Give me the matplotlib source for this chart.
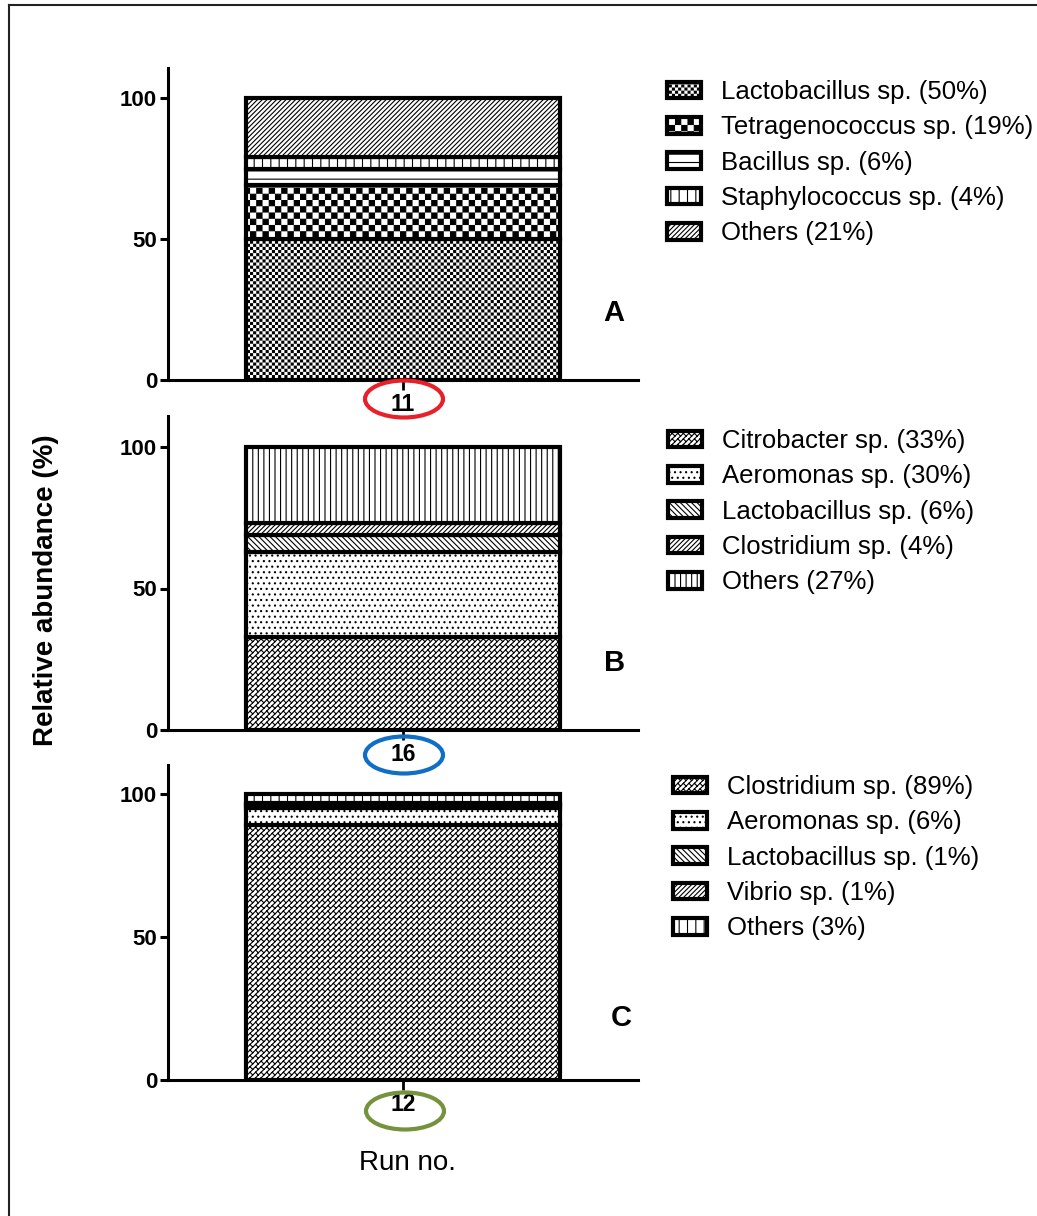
import numpy as np
import matplotlib
matplotlib.use('Agg')
import matplotlib.pyplot as plt
import matplotlib.hatch as mhatch
from matplotlib.path import Path
from matplotlib.patches import Ellipse
from matplotlib.lines import Line2D

plt.rcParams['font.family'] = ['Liberation Sans', 'DejaVu Sans']
plt.rcParams['hatch.linewidth'] = 0.8

# run 11
species_11 = ['Lactobacillus sp.', 'Tetragenococcus sp.', 'Bacillus sp.',
              'Staphylococcus sp.', 'Others']
pct_11 = [50, 19, 6, 4, 21]
# run 16
species_16 = ['Citrobacter sp.', 'Aeromonas sp.', 'Lactobacillus sp.',
              'Clostridium sp.', 'Others']
pct_16 = [33, 30, 6, 4, 27]
# run 12
species_12 = ['Clostridium sp.', 'Aeromonas sp.', 'Lactobacillus sp.',
              'Vibrio sp.', 'Others']
pct_12 = [89, 6, 1, 1, 3]

run_ids = ['11', '16', '12']
panel_tags = ['A', 'B', 'C']
y_ticks = [0, 50, 100]


# extra fill patterns: 'O' coarse checkerboard, 'o' fine checkerboard,
# '*' diagonal brickwork
class CheckerHatch(mhatch.HatchPatternBase):
    char = 'O'
    cells_per_char = 8
    inset = 0.005  # leave room for the hatch stroke

    def __init__(self, hatch, density):
        self.n = hatch.count(self.char) * self.cells_per_char
        self.n += self.n % 2
        self.num_vertices = (self.n * self.n // 2) * 5

    def set_vertices_and_codes(self, vertices, codes):
        cell = 1.0 / self.n
        sq = np.array([[0, 0], [1, 0], [1, 1], [0, 1], [0, 0]], float)
        sq = sq * (cell - 2 * self.inset) + self.inset
        parts = [sq + [i * cell, j * cell]
                 for i in range(self.n) for j in range(self.n)
                 if (i + j) % 2 == 0]
        vertices[:] = np.concatenate(parts)
        codes[:] = np.tile([Path.MOVETO, Path.LINETO, Path.LINETO,
                            Path.LINETO, Path.CLOSEPOLY], len(parts))


class FineCheckerHatch(CheckerHatch):
    char = 'o'
    cells_per_char = 8
    inset = 0.0058


class BrickHatch(mhatch.HatchPatternBase):
    def __init__(self, hatch, density):
        self.n = hatch.count('*') * int(density)
        self.n += self.n % 2
        self.m = self.n // 2
        if self.n:
            n_lines = 2 * self.n + 1
            n_joints = 2 * self.n * (2 * self.m + 1)
            self.num_vertices = 2 * (n_lines + n_joints)
        else:
            self.num_vertices = 0

    def set_vertices_and_codes(self, vertices, codes):
        n, m = self.n, self.m
        segs = []
        for k in range(-n, n + 1):
            c = k / n
            segs.append([(c / 2, -c / 2), (1 + c / 2, 1 - c / 2)])
        for k in range(-n, n):
            c = k / n
            for j in range(2 * m + 1):
                s = (j + 0.5 * (k % 2)) / m
                segs.append([((s + c) / 2, (s - c) / 2),
                             ((s + c + 1 / n) / 2, (s - c - 1 / n) / 2)])
        vertices[:] = np.array(segs).reshape(-1, 2)
        codes[0::2] = Path.MOVETO
        codes[1::2] = Path.LINETO


mhatch._hatch_types[:] = [mhatch.HorizontalHatch, mhatch.VerticalHatch,
                          mhatch.NorthEastHatch, mhatch.SouthEastHatch,
                          FineCheckerHatch, CheckerHatch,
                          mhatch.SmallFilledCircles, BrickHatch]

hatches_11 = ['oooo', 'OO', '--', '||', '/' * 7]
hatches_16 = ['***', '...', '\\' * 6, '/' * 7, '|||']
hatches_12 = ['***', '...', '\\' * 6, '/' * 7, '||']

W, H = 1037, 1216
fig = plt.figure(figsize=(W / 100, H / 100), dpi=100)

# pixel layout: axis left/right, y of 0, y of 100, axis top
ax_left, ax_right = 168, 638
panel_px = [(380, 98, 68), (730, 447, 416), (1080, 794, 765)]
legend_px = [(667, 80), (668, 429), (673, 775)]
tag_px = [(614, 313), (615, 663), (621, 1018)]
ring_px = [(404, 399, '#e8202a'), (404, 755, '#0f6fc6'), (405, 1111, '#76923c')]

runs = [(species_11, pct_11, hatches_11),
        (species_16, pct_16, hatches_16),
        (species_12, pct_12, hatches_12)]

for i, (species, pct, hatches) in enumerate(runs):
    y0, y100, ytop = panel_px[i]
    ax = fig.add_axes([ax_left / W, 1 - y0 / H,
                       (ax_right - ax_left) / W, (y0 - ytop) / H])
    bottom = 0
    for name, v, h in zip(species, pct, hatches):
        ax.bar(0, v, width=1.0, bottom=bottom, facecolor='white',
               edgecolor='black', hatch=h, linewidth=3,
               label=f'{name} ({v}%)')
        bottom += v
    ax.set_xlim(-0.75, 0.75)
    ax.set_ylim(0, 100 * (y0 - ytop) / (y0 - y100))
    ax.set_yticks(y_ticks)
    ax.set_xticks([0])
    ax.set_xticklabels([run_ids[i]])
    for side in ['top', 'right']:
        ax.spines[side].set_visible(False)
    for side in ['left', 'bottom']:
        ax.spines[side].set_linewidth(2.2)
    ax.tick_params(axis='y', width=2.2, length=5.8, pad=2, labelsize=16)
    ax.tick_params(axis='x', width=2.0, length=7, pad=2.5, labelsize=16.5)
    plt.setp(ax.get_xticklabels() + ax.get_yticklabels(), fontweight='bold')

    lx, ly = legend_px[i]
    ax.legend(loc='upper left', bbox_to_anchor=(lx / W, 1 - ly / H),
              bbox_transform=fig.transFigure, frameon=False, fontsize=18.5,
              borderpad=0, borderaxespad=0, handlelength=1.32,
              handleheight=0.62, handletextpad=0.78, labelspacing=0.44)

    tx, ty = tag_px[i]
    fig.text(tx / W, 1 - ty / H, panel_tags[i], fontsize=21,
             fontweight='bold', ha='center', va='center')

    cx, cy, col = ring_px[i]
    fig.add_artist(Ellipse((cx / W, 1 - cy / H), 78 / W, 37 / H,
                           transform=fig.transFigure, fill=False,
                           edgecolor=col, linewidth=3))

fig.text(46 / W, 1 - 590 / H, 'Relative abundance (%)', rotation=90,
         fontsize=20, fontweight='bold', ha='center', va='center')
fig.text(407 / W, 1 - 1163 / H, 'Run no.', fontsize=20,
         ha='center', va='center')

# outer frame (top and left edges)
fig.add_artist(Line2D([9 / W, 9 / W], [0, 1 - 5 / H], transform=fig.transFigure,
                      color='#222222', linewidth=1.5))
fig.add_artist(Line2D([9 / W, 1], [1 - 5 / H, 1 - 5 / H],
                      transform=fig.transFigure, color='#222222', linewidth=1.5))

fig.savefig('out.png', dpi=100)
